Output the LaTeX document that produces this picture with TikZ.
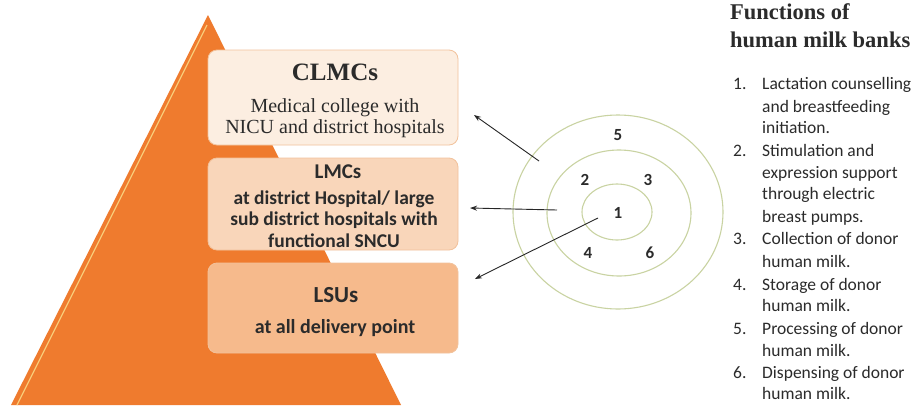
\documentclass[tikz,border=0pt]{standalone}
\usepackage{fontspec}
\setmainfont{Liberation Serif}
\newfontfamily\calfont{Carlito}
\usetikzlibrary{arrows.meta}
\definecolor{pyr}{HTML}{EF7B2E}
\definecolor{hil}{HTML}{F9CB78}
\definecolor{bxa}{HTML}{FCEEE1}
\definecolor{bxb}{HTML}{F9D6BA}
\definecolor{bxc}{HTML}{F6BA8C}
\definecolor{bxline}{HTML}{F2C29C}
\definecolor{ring}{HTML}{C9D3A2}
\definecolor{txt}{HTML}{2B2B2B}
\tikzset{
  tier/.style={draw=bxline, line width=0.8pt, rounded corners=9pt, minimum width=250pt, inner sep=0pt},
  ringst/.style={draw=ring, line width=1.1pt},
  num/.style={font=\calfont\bfseries\fontsize{17}{19}\selectfont, text=txt},
  arr/.style={-{Stealth[length=7pt,width=5pt]}, line width=0.9pt, black!85},
  item/.style={anchor=base west, font=\calfont\fontsize{17.5}{20}\selectfont, text=txt, inner sep=0pt},
  head/.style={anchor=base west, inner sep=0pt, font=\bfseries\fontsize{22.5}{26}\selectfont, text=txt}
}
\begin{document}
\begin{tikzpicture}[x=1pt,y=-1pt]
\useasboundingbox (0,0) rectangle (922,405);
\fill[white] (0,0) rectangle (922,405);
% pyramid
\fill[pyr] (208,15) -- (401,405) -- (11,405) -- cycle;
\draw[hil, line width=1.3pt] (207,25) -- (17,405);
% tier boxes
\node[tier, fill=bxa, minimum height=95pt] (clmc) at (333,97.5) {};
\node[tier, fill=bxb, minimum height=92pt] (lmc) at (333,204) {};
\node[tier, fill=bxc, minimum height=90pt] (lsu) at (333,308) {};
\node[font=\bfseries\fontsize{25}{28}\selectfont, text=txt] (t1) at (335,72) {CLMCs};
\node[font=\fontsize{20}{20.5}\selectfont, text=txt, align=center] (t1b) at (335,118) {Medical college with\\NICU and district hospitals};
\node[font=\calfont\bfseries\fontsize{21}{24}\selectfont, text=txt] (t2) at (338,172) {LMCs};
\node[font=\calfont\bfseries\fontsize{19.5}{21.5}\selectfont, text=txt, align=center] (t2b) at (334,219) {at district Hospital/ large\\sub district hospitals with\\functional SNCU};
\node[font=\calfont\bfseries\fontsize{23}{26}\selectfont, text=txt] (t3) at (336,295) {LSUs};
\node[font=\calfont\bfseries\fontsize{20}{23}\selectfont, text=txt] (t3b) at (335,328) {at all delivery point};
% rings
\draw[ringst] (618,212) ellipse [x radius=105, y radius=97];
\draw[ringst] (619,213) ellipse [x radius=72, y radius=63];
\draw[ringst] (617,212) ellipse [x radius=35, y radius=28];
\node[num] (n5) at (618,135) {5};
\node[num] (n2) at (585,180) {2};
\node[num] (n3) at (648,180) {3};
\node[num] (n1) at (618,213) {1};
\node[num] (n4) at (588,253) {4};
\node[num] (n6) at (650,253) {6};
% arrows
\coordinate (a1) at (539,161);
\coordinate (b1) at (474,115);
\coordinate (a2) at (557,210);
\coordinate (b2) at (470,208);
\coordinate (a3) at (598,218);
\coordinate (b3) at (475,279);
\draw[arr] (a1) -- (b1);
\draw[arr] (a2) -- (b2);
\draw[arr] (a3) -- (b3);
% functions list
\node[head] (h1) at (730,19) {Functions of};
\node[head] (h2) at (730,47) {human milk banks};
\node[item] (l1) at (733,89) {1.};
\node[item] (l1a) at (762,89) {Lactation counselling};
\node[item] (l1b) at (762,112) {and breastfeeding};
\node[item] (l1c) at (762,133) {initiation.};
\node[item] (l2) at (733,156) {2.};
\node[item] (l2a) at (762,156) {Stimulation and};
\node[item] (l2b) at (762,178) {expression support};
\node[item] (l2c) at (762,199) {through electric};
\node[item] (l2d) at (762,222) {breast pumps.};
\node[item] (l3) at (733,244) {3.};
\node[item] (l3a) at (762,244) {Collection of donor};
\node[item] (l3b) at (762,267) {human milk.};
\node[item] (l4) at (733,290) {4.};
\node[item] (l4a) at (762,290) {Storage of donor};
\node[item] (l4b) at (762,311) {human milk.};
\node[item] (l5) at (733,334) {5.};
\node[item] (l5a) at (762,334) {Processing of donor};
\node[item] (l5b) at (762,356) {human milk.};
\node[item] (l6) at (733,378) {6.};
\node[item] (l6a) at (762,378) {Dispensing of donor};
\node[item] (l6b) at (762,399) {human milk.};
\end{tikzpicture}
\end{document}
